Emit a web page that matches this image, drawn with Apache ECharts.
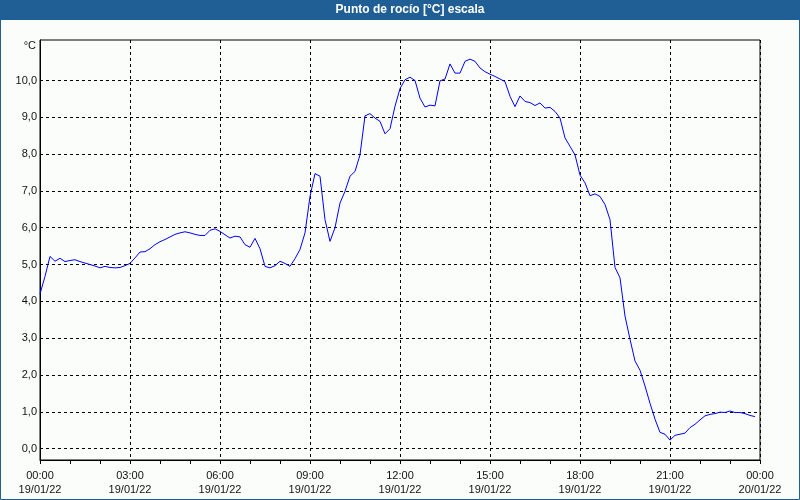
<!DOCTYPE html>
<html>
<head>
<meta charset="utf-8">
<script src="https://cdn.jsdelivr.net/npm/echarts@6/dist/echarts.min.js"></script>
<style>
html,body{margin:0;padding:0;background:#fbfdfb;}
#c{width:800px;height:500px;}
</style>
</head>
<body>
<div id="c"></div>
<script>
// ---- data ----
const chartTitle = 'Punto de rocío [°C] escala';
const unitLabel = '°C';
const stepMinutes = 10; // one reading every 10 minutes, starting 19/01/22 00:00
const dewPoint = [
  4.20, 4.68, 5.22, 5.09, 5.17, 5.08, 5.11, 5.13, 5.08, 5.04, 5.00, 4.96,
  4.91, 4.95, 4.92, 4.91, 4.92, 4.97, 5.03, 5.18, 5.34, 5.35, 5.43, 5.54,
  5.62, 5.68, 5.75, 5.82, 5.86, 5.89, 5.86, 5.82, 5.79, 5.79, 5.93, 5.97,
  5.90, 5.81, 5.72, 5.77, 5.75, 5.54, 5.47, 5.71, 5.43, 4.95, 4.91, 4.97,
  5.09, 5.03, 4.95, 5.16, 5.41, 5.86, 6.85, 7.47, 7.40, 6.22, 5.63, 6.00,
  6.67, 6.99, 7.40, 7.53, 7.98, 9.04, 9.10, 8.98, 8.89, 8.55, 8.69, 9.30,
  9.78, 10.02, 10.09, 10.00, 9.52, 9.28, 9.33, 9.31, 9.99, 10.04, 10.45, 10.20,
  10.20, 10.52, 10.58, 10.52, 10.34, 10.24, 10.17, 10.11, 10.04, 9.97, 9.57, 9.29,
  9.58, 9.43, 9.40, 9.32, 9.39, 9.25, 9.27, 9.16, 8.98, 8.44, 8.21, 7.98,
  7.43, 7.22, 6.87, 6.92, 6.85, 6.63, 6.22, 4.92, 4.64, 3.60, 2.97, 2.38,
  2.13, 1.70, 1.23, 0.80, 0.44, 0.39, 0.23, 0.36, 0.39, 0.42, 0.57, 0.66,
  0.78, 0.89, 0.93, 0.95, 0.99, 0.98, 1.02, 0.98, 0.98, 0.95, 0.90, 0.87
];
const yTickValues = [0, 1, 2, 3, 4, 5, 6, 7, 8, 9, 10];
const xTickTimes = ['00:00', '03:00', '06:00', '09:00', '12:00', '15:00', '18:00', '21:00', '00:00'];
const xTickDates = ['19/01/22', '19/01/22', '19/01/22', '19/01/22', '19/01/22', '19/01/22', '19/01/22', '19/01/22', '20/01/22'];

// ---- chart ----
const seriesData = dewPoint.map((v, i) => [i * stepMinutes / 60, v]);
const fontFam = '"Liberation Sans", Arial, sans-serif';
const chart = echarts.init(document.getElementById('c'), null, {renderer: 'canvas'});
chart.setOption({
  backgroundColor: '#fbfdfb',
  animation: false,
  grid: {
    left: 40, right: 40, top: 40, bottom: 40,
    show: true, borderColor: '#000', borderWidth: 1,
    containLabel: false, outerBoundsMode: 'none'
  },
  xAxis: {
    type: 'value', min: 0, max: 24, interval: 3,
    axisLine: {show: true, onZero: false, lineStyle: {color: '#000', width: 1}},
    axisTick: {show: true, length: 4, lineStyle: {color: '#000'}},
    minorTick: {show: true, splitNumber: 3, length: 4, lineStyle: {color: '#000'}},
    splitLine: {show: true, lineStyle: {color: '#000', type: [3, 3], width: 1}},
    minorSplitLine: {show: false},
    axisLabel: {
      show: true, margin: 9, color: '#111', fontSize: 11, fontFamily: fontFam,
      lineHeight: 14, showMinLabel: true, showMaxLabel: true, hideOverlap: false,
      formatter: function (v) {
        const k = Math.round(v / 3);
        return xTickTimes[k] + '\n' + xTickDates[k];
      }
    }
  },
  yAxis: {
    type: 'value', min: -0.31, max: 11.1,
    axisLine: {show: true, lineStyle: {color: '#000', width: 1}},
    axisTick: {show: false, customValues: yTickValues},
    splitLine: {show: true, lineStyle: {color: '#000', type: [3, 3], width: 1}},
    axisLabel: {
      show: true, margin: 3, color: '#111', fontSize: 11, fontFamily: fontFam,
      customValues: yTickValues,
      formatter: function (v) { return v.toFixed(1).replace('.', ','); }
    }
  },
  series: [{
    type: 'line', data: seriesData, showSymbol: false, symbol: 'none',
    lineStyle: {color: '#0000ff', width: 1}, itemStyle: {color: '#0000ff'},
    clip: true
  }],
  graphic: [
    {type: 'rect', left: 0, top: 0, z: -1, shape: {x: 0, y: 0, width: 800, height: 20}, style: {fill: '#1f5f95'}},
    {type: 'rect', z: 100, shape: {x: 0.5, y: 0.5, width: 799, height: 499}, style: {fill: 'none', stroke: '#1f5f95', lineWidth: 1}},
    {type: 'text', z: 101, x: 410, y: 10, style: {text: chartTitle, fill: '#ffffff', font: 'bold 12px ' + fontFam, textAlign: 'center', textVerticalAlign: 'middle'}},
    {type: 'text', z: 101, x: 36, y: 46, style: {text: unitLabel, fill: '#111', font: '11px ' + fontFam, textAlign: 'right', textVerticalAlign: 'middle'}}
  ]
});
</script>
</body>
</html>
